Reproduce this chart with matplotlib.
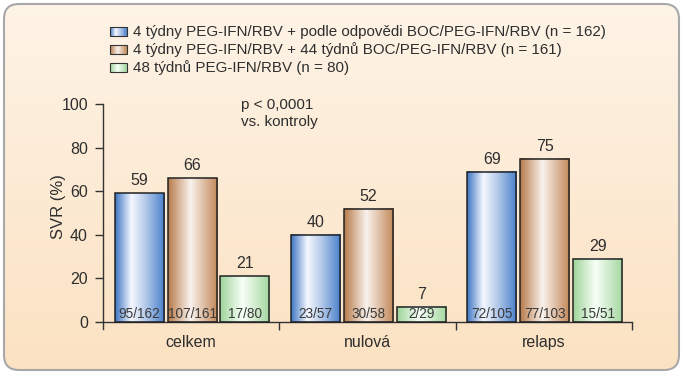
import numpy as np
import matplotlib
matplotlib.use('Agg')
import matplotlib.pyplot as plt
from matplotlib.colors import LinearSegmentedColormap
from matplotlib.patches import FancyBboxPatch, Rectangle

plt.rcParams['font.family'] = ['Liberation Sans', 'DejaVu Sans']

categories = ['celkem', 'nulová', 'relaps']
series_names = ['4 týdny PEG-IFN/RBV + podle odpovědi BOC/PEG-IFN/RBV (n = 162)',
                '4 týdny PEG-IFN/RBV + 44 týdnů BOC/PEG-IFN/RBV (n = 161)',
                '48 týdnů PEG-IFN/RBV (n = 80)']
svr_rgt = [59, 40, 69]
svr_fixed = [66, 52, 75]
svr_control = [21, 7, 29]
counts_rgt = ['95/162', '23/57', '72/105']
counts_fixed = ['107/161', '30/58', '77/103']
counts_control = ['17/80', '2/29', '15/51']
yticks = [0, 20, 40, 60, 80, 100]

txt = '#2e2e2e'

# horizontal gradients for the bars (edge -> highlight -> edge)
cmaps = [
    LinearSegmentedColormap.from_list('blue', [(0, (0.24, 0.46, 0.77)), (0.33, (0.96, 0.97, 1.0)),
                                               (0.6, (0.72, 0.80, 0.92)), (1, (0.28, 0.50, 0.80))]),
    LinearSegmentedColormap.from_list('brown', [(0, (0.72, 0.48, 0.29)), (0.45, (0.98, 0.95, 0.93)),
                                                (1, (0.76, 0.53, 0.34))]),
    LinearSegmentedColormap.from_list('green', [(0, (0.62, 0.83, 0.60)), (0.45, (0.97, 1.0, 0.97)),
                                                (1, (0.64, 0.84, 0.62))]),
]
grad = np.linspace(0, 1, 256).reshape(1, -1)

fig = plt.figure(figsize=(6.84, 3.74), dpi=100)

# background panel in pixel coordinates
bg = fig.add_axes([0, 0, 1, 1])
bg.set_xlim(0, 684)
bg.set_ylim(374, 0)
bg.axis('off')
panel = FancyBboxPatch((4, 4), 675, 366, boxstyle='round,pad=0,rounding_size=15',
                       facecolor='none', edgecolor='#a8a8a8', lw=1.5, zorder=3)
vgrad = np.linspace(0, 1, 256).reshape(-1, 1)
bgcmap = LinearSegmentedColormap.from_list('bg', [(0.995, 0.955, 0.905), (0.985, 0.885, 0.76)])
im = bg.imshow(vgrad, cmap=bgcmap, extent=(4, 679, 370, 4), aspect='auto', zorder=1)
bg.add_patch(panel)
im.set_clip_path(panel)

# legend
for i, name in enumerate(series_names):
    yc = 31.5 + i * 18.2
    bg.imshow(grad, cmap=cmaps[i], extent=(110, 127, yc + 4.5, yc - 4.5), aspect='auto', zorder=4)
    bg.add_patch(Rectangle((110, yc - 4.5), 17, 9, facecolor='none', edgecolor='#333333', lw=0.8, zorder=5))
    bg.text(133, yc, name, fontsize=10.9, color=txt, va='center', ha='left')
bg.set_xlim(0, 684)
bg.set_ylim(374, 0)

# main axes
ax = fig.add_axes([103 / 684, 45 / 374, 529 / 684, 225 / 374])
ax.patch.set_alpha(0)
x = np.arange(len(categories))
width = 0.278
offsets = [-0.295, 0.005, 0.305]
values = [svr_rgt, svr_fixed, svr_control]
counts = [counts_rgt, counts_fixed, counts_control]

for s in range(3):
    bars = ax.bar(x + offsets[s], values[s], width, facecolor='none', edgecolor='#222222', lw=1.1, zorder=3)
    for rect, v, c in zip(bars, values[s], counts[s]):
        x0, w, h = rect.get_x(), rect.get_width(), rect.get_height()
        ax.imshow(grad, cmap=cmaps[s], extent=(x0, x0 + w, 0, h), aspect='auto', zorder=2)
        ax.annotate(str(v), (x0 + w / 2, h), xytext=(0, 9), textcoords='offset points',
                    ha='center', va='center', fontsize=11.5, color=txt)
        ax.text(x0 + w / 2, 3.7, c, ha='center', va='center', fontsize=9.8, color='#3a3a3a', zorder=4)

ax.set_xlim(-0.5, 2.5)
ax.set_ylim(-3.2, 100)
ax.set_aspect('auto')
for sp in ['top', 'right']:
    ax.spines[sp].set_visible(False)
ax.spines['bottom'].set_position(('data', 0))
ax.spines['left'].set_color('#333333')
ax.spines['bottom'].set_color('#333333')
ax.spines['left'].set_linewidth(1.0)
ax.spines['bottom'].set_linewidth(1.0)

ax.set_yticks(yticks)
ax.set_yticklabels([str(t) for t in yticks])
ax.tick_params(axis='y', direction='out', length=5.8, width=1.0, pad=5, labelsize=11.5,
               colors='#333333', labelcolor=txt)
ax.set_xticks([0.5, 1.5, 2.5])
ax.set_xticklabels([])
ax.tick_params(axis='x', direction='out', length=5.8, width=1.0, colors='#333333')

for i, cat in enumerate(categories):
    ax.text(x[i], -9.3, cat, ha='center', va='center', fontsize=11.5, color=txt)

fig.text(58 / 684, 1 - 207 / 374, 'SVR (%)', rotation=90, ha='center', va='center',
         fontsize=12, color=txt)
bg.text(241, 105, 'p < 0,0001', fontsize=11, color=txt, va='center', ha='left')
bg.text(241, 122, 'vs. kontroly', fontsize=11, color=txt, va='center', ha='left')

fig.savefig('out.png', dpi=100, facecolor='white')
